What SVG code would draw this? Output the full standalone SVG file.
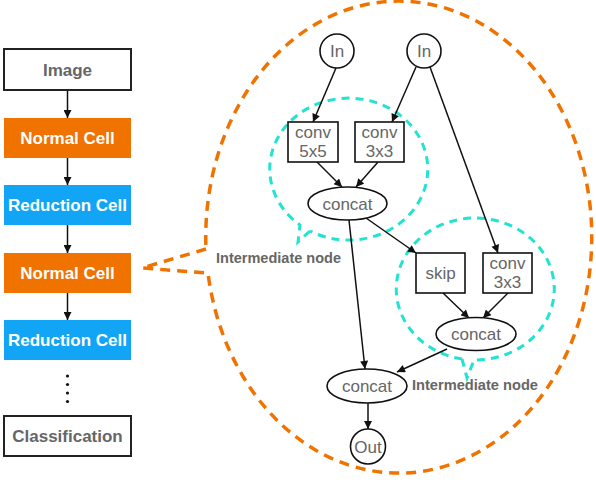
<svg xmlns="http://www.w3.org/2000/svg" width="596" height="482" viewBox="0 0 596 482">
<style>
.bg{fill:#ffffff}
.box{fill:#ffffff;stroke:#222;stroke-width:2}
.orange{fill:#F07300}
.blue{fill:#12A5F5}
.lbl{font-family:"Liberation Sans",Arial,sans-serif;font-weight:bold;font-size:17px;text-anchor:middle}
.gray{fill:#666}
.white{fill:#fff}
.nd{fill:#fff;stroke:#111;stroke-width:1.6}
.nt{font-family:"Liberation Sans",Arial,sans-serif;font-size:17px;fill:#666;text-anchor:middle}
.edge{stroke:#111;stroke-width:1.5;fill:none;marker-end:url(#arr)}
.obub{fill:none;stroke:#F07300;stroke-width:3.5;stroke-dasharray:10 7}
.cbub{fill:none;stroke:#22E3D2;stroke-width:3;stroke-dasharray:8 6}
.im{font-family:"Liberation Sans",Arial,sans-serif;font-weight:bold;font-size:14px;fill:#666}
</style>
<defs>
<marker id="arr" viewBox="0 0 10 10" refX="10" refY="5" markerWidth="9" markerHeight="8" markerUnits="userSpaceOnUse" orient="auto">
<path d="M0,0 L10,5 L0,10 z" fill="#111"/>
</marker>
</defs>
<rect class="bg" x="0" y="0" width="596" height="482"/>

<g id="bubbles">
<path class="obub" d="M206,249 L142,268 L208,273 A193 236 0 1 0 206 249"/>
<path class="cbub" d="M310,231 L298,242 L300,225 A79 71 0 1 1 310 231"/>
<path class="cbub" d="M462,359 L467,378 L474,360 A79 71 0 1 0 462 359"/>
</g>

<g id="connectors">
<line class="edge" x1="67.5" y1="90" x2="67.5" y2="118"/>
<line class="edge" x1="67.5" y1="158" x2="67.5" y2="185"/>
<line class="edge" x1="67.5" y1="225" x2="67.5" y2="253"/>
<line class="edge" x1="67.5" y1="293" x2="67.5" y2="320"/>
<line class="edge" x1="336" y1="68" x2="313" y2="122"/>
<line class="edge" x1="416" y1="67" x2="392" y2="122"/>
<line class="edge" x1="430" y1="67" x2="498" y2="253"/>
<line class="edge" x1="317" y1="162" x2="342" y2="187"/>
<line class="edge" x1="378" y1="162" x2="356" y2="187"/>
<line class="edge" x1="366" y1="218" x2="416" y2="253"/>
<line class="edge" x1="349" y1="220" x2="365" y2="369"/>
<line class="edge" x1="443" y1="293" x2="469" y2="318"/>
<line class="edge" x1="508" y1="293" x2="483" y2="318"/>
<line class="edge" x1="447" y1="349" x2="397" y2="372"/>
<line class="edge" x1="368" y1="403" x2="368" y2="429"/>
</g>

<g id="image"><rect class="box" x="4" y="49" width="127" height="41"/><text class="lbl gray" x="67.5" y="75.5">Image</text></g>
<g id="normal1"><rect class="orange" x="4" y="118" width="127" height="40"/><text class="lbl white" x="67.5" y="144">Normal Cell</text></g>
<g id="reduction1"><rect class="blue" x="4" y="185" width="127" height="40"/><text class="lbl white" x="67.5" y="211">Reduction Cell</text></g>
<g id="normal2"><rect class="orange" x="4" y="253" width="127" height="40"/><text class="lbl white" x="67.5" y="279">Normal Cell</text></g>
<g id="reduction2"><rect class="blue" x="4" y="320" width="127" height="40"/><text class="lbl white" x="67.5" y="346">Reduction Cell</text></g>
<g id="dots" fill="#111"><circle cx="67.5" cy="376" r="1.6"/><circle cx="67.5" cy="384.5" r="1.6"/><circle cx="67.5" cy="393" r="1.6"/><circle cx="67.5" cy="401.5" r="1.6"/></g>
<g id="classification"><rect class="box" x="4" y="416" width="127" height="40"/><text class="lbl gray" x="67.5" y="442">Classification</text></g>

<g id="in1"><circle class="nd" cx="337" cy="51" r="17"/><text class="nt" x="337" y="57">In</text></g>
<g id="in2"><circle class="nd" cx="424" cy="51" r="17"/><text class="nt" x="424" y="57">In</text></g>
<g id="conv5x5"><rect class="nd" x="288" y="122" width="50" height="40"/><text class="nt" x="313" y="138">conv</text><text class="nt" x="313" y="157">5x5</text></g>
<g id="conv3x3a"><rect class="nd" x="355" y="122" width="49" height="40"/><text class="nt" x="379.5" y="138">conv</text><text class="nt" x="379.5" y="157">3x3</text></g>
<g id="concat1"><ellipse class="nd" cx="347.5" cy="203.5" rx="39.5" ry="16.5"/><text class="nt" x="347.5" y="209.5">concat</text></g>
<g id="skip"><rect class="nd" x="416" y="253" width="49" height="40"/><text class="nt" x="440.5" y="279">skip</text></g>
<g id="conv3x3b"><rect class="nd" x="483" y="253" width="49" height="40"/><text class="nt" x="507.5" y="269">conv</text><text class="nt" x="507.5" y="288">3x3</text></g>
<g id="concat2"><ellipse class="nd" cx="476" cy="334" rx="40" ry="16.5"/><text class="nt" x="476" y="340">concat</text></g>
<g id="concat3"><ellipse class="nd" cx="367" cy="386" rx="40" ry="17"/><text class="nt" x="367" y="392">concat</text></g>
<g id="out"><circle class="nd" cx="368" cy="446.5" r="17.5"/><text class="nt" x="368" y="452.5">Out</text></g>

<g id="labels">
<text class="im" x="216" y="263" textLength="125" lengthAdjust="spacingAndGlyphs">Intermediate node</text>
<text class="im" x="412" y="390" textLength="126" lengthAdjust="spacingAndGlyphs">Intermediate node</text>
</g>
</svg>
